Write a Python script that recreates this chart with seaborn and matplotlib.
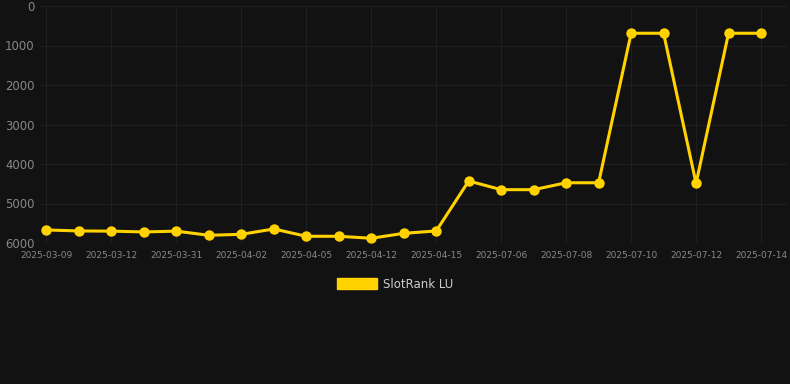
import pandas as pd
import matplotlib
matplotlib.use("Agg")
import matplotlib.pyplot as plt
from matplotlib.patches import Patch
import seaborn as sns

dates = ["2025-03-09", "2025-03-10", "2025-03-12", "2025-03-20", "2025-03-31", "2025-04-01",
         "2025-04-02", "2025-04-03", "2025-04-05", "2025-04-10", "2025-04-12", "2025-04-14",
         "2025-04-15", "2025-07-05", "2025-07-06", "2025-07-07", "2025-07-08", "2025-07-09",
         "2025-07-10", "2025-07-11", "2025-07-12", "2025-07-13", "2025-07-14"]
rank = [5670, 5695, 5700, 5720, 5700, 5805, 5780, 5645, 5830, 5830, 5880, 5755,
        5695, 4430, 4650, 4650, 4475, 4475, 690, 690, 4490, 690, 690]

bg = "#121212"
gold = "#FFD200"

df = pd.DataFrame({"date": dates, "rank": rank})
df["pos"] = range(len(df))

sns.set_theme(style="dark")
fig = plt.figure(figsize=(7.9, 3.84), dpi=100, facecolor=bg)
ax = fig.add_axes([40 / 790, 1 - 243 / 384, 747 / 790, 237 / 384])
ax.set_facecolor(bg)

sns.lineplot(data=df, x="pos", y="rank", ax=ax, color=gold, linewidth=2.2,
             marker="o", markersize=7.5, markeredgewidth=0, legend=False)

ax.set_ylim(6000, 0)
ax.set_yticks([0, 1000, 2000, 3000, 4000, 5000, 6000])
ax.set_xlim(-0.2, 22.8)
ax.set_xticks(df["pos"][::2])
ax.set_xticklabels(df["date"][::2])
ax.set_xlabel("")
ax.set_ylabel("")

ax.grid(True, color="#1f1f1f", linewidth=0.8)
for s in ax.spines.values():
    s.set_visible(False)
ax.axhline(6000, color="#2c2c2c", linewidth=0.8)
ax.tick_params(axis="y", colors="#888888", labelsize=8.4, length=0, pad=4)
ax.tick_params(axis="x", colors="#888888", labelsize=6.5, length=0, pad=6)

fig.legend(handles=[Patch(facecolor=gold, edgecolor=gold, label="SlotRank LU")],
           loc="center", bbox_to_anchor=(0.5, 1 - 284 / 384), frameon=False,
           handlelength=3.4, handleheight=1.1, handletextpad=0.45,
           fontsize=8.5, labelcolor="#cccccc")

fig.savefig("out.png", dpi=100, facecolor=bg)
